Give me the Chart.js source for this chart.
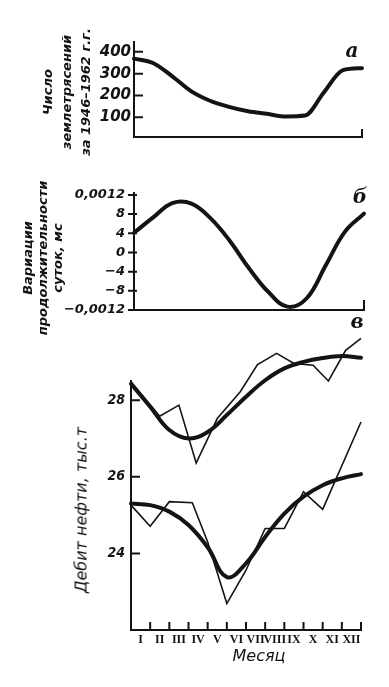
<!DOCTYPE html>
<html lang="ru">
<head>
<meta charset="utf-8">
<script src="https://cdn.jsdelivr.net/npm/chart.js@4.4.1/dist/chart.umd.min.js"></script>
<style>
  html, body { margin: 0; padding: 0; background: #fff; }
  #page { position: relative; width: 389px; height: 687px; overflow: hidden; background: #fff; }
  canvas { position: absolute; left: 0; top: 0; }
  .ytitle {
    position: absolute; transform: translate(-50%, -50%) rotate(-90deg);
    white-space: nowrap; text-align: center; color: #141414;
    font-family: 'DejaVu Sans'; font-style: italic;
  }
  .tag {
    position: absolute; transform: translate(-50%, -50%);
    font-family: 'DejaVu Serif'; font-style: italic; font-weight: bold;
    font-size: 20px; color: #141414; line-height: 1;
  }
</style>
</head>
<body>
<div id="page">
  <canvas id="quakeChart" width="389" height="687"></canvas>
  <canvas id="lodChart" width="389" height="687"></canvas>
  <canvas id="oilChart" width="389" height="687"></canvas>

  <div class="ytitle" style="left:66px; top:92px; font-size:13px; font-weight:bold; line-height:19px;">
    Число<br>землетрясений<br>за 1946–1962 г.г.
  </div>
  <div class="ytitle" style="left:42px; top:258px; font-size:13px; font-weight:bold; line-height:15px;">
    Вариации<br>продолжительности<br>суток, мс
  </div>
  <div class="ytitle" style="left:81px; top:510px; font-size:16px;">Дебит нефти, тыс.т</div>
  <div style="position:absolute; left:259px; top:655px; transform:translate(-50%,-50%); font-family:'DejaVu Sans'; font-style:italic; font-size:16px; color:#141414;">Месяц</div>

  <div class="tag" style="left:352px; top:50px;">а</div>
  <div class="tag" style="left:360px; top:196px;">б</div>
  <div class="tag" style="left:357px; top:321px;">в</div>
</div>

<script>
// Months along the bottom axis
const months = ['I', 'II', 'III', 'IV', 'V', 'VI', 'VII', 'VIII', 'IX', 'X', 'XI', 'XII'];
const monthLabelPos = [0.5, 1.5, 2.5, 3.5, 4.5, 5.5, 6.5, 7.5, 8.5, 9.5, 10.5, 11.5];
const monthTickPos = [1, 2, 3, 4, 5, 6, 7, 8, 9, 10, 11, 12];
const curveX = [0, 1, 2, 3, 4, 5, 6, 7, 8, 9, 10, 11, 12];

// (а) earthquakes 1946-1962
const quakeCount = [369, 349, 289, 220, 176, 148, 128, 116, 104, 108, 215, 316, 325];
const quakeTicks = [100, 200, 300, 400];

// (б) variations of day length, units of 0.0001 ms
const lodVariation = [4.1, 7.3, 10.3, 10.2, 7.1, 2.4, -3.3, -8.2, -11.3, -9.6, -2.7, 4.3, 8.1];
const lodTicks = [-12, -8, -4, 0, 4, 8, 12];
const lodTickLabels = ['−0,0012', '−8', '−4', '0', '4', '8', '0,0012'];

// (в) oil output, thousand t
const oilUpperRawX = [0, 1.5, 2.5, 3.4, 4.5, 5.7, 6.6, 7.6, 8.5, 9.5, 10.3, 11.2, 12];
const oilUpperRaw = [28.48, 27.58, 27.87, 26.36, 27.52, 28.22, 28.93, 29.22, 28.96, 28.91, 28.5, 29.3, 29.61];
const oilUpperSmooth = [28.43, 27.83, 27.22, 27.0, 27.17, 27.61, 28.09, 28.52, 28.83, 29.0, 29.1, 29.15, 29.11];
const oilLowerRawX = [0, 1, 2, 3.2, 4, 5, 6, 7, 8, 9, 10, 12];
const oilLowerRaw = [25.26, 24.71, 25.35, 25.32, 24.3, 22.69, 23.56, 24.65, 24.65, 25.61, 25.15, 27.43];
const oilLowerSmooth = [25.3, 25.26, 25.09, 24.74, 24.16, 23.38, 23.74, 24.43, 25.04, 25.48, 25.78, 25.96, 26.07];
const oilTicks = [24, 26, 28];

const INK = '#141414';
const PAGE_W = 389, PAGE_H = 687;

const toPoints = (xs, ys) => ys.map((y, i) => ({ x: xs[i], y }));

// Short tick marks drawn from the axes into the plot
const innerTicks = {
    id: 'innerTicks',
    afterDraw(chart, args, opts) {
        const { ctx, chartArea: a, scales } = chart;
        ctx.save();
        ctx.strokeStyle = INK;
        ctx.lineWidth = 2;
        ctx.beginPath();
        (opts.y || []).forEach(v => {
            const py = scales.y.getPixelForValue(v);
            ctx.moveTo(a.left + opts.yFrom, py);
            ctx.lineTo(a.left + opts.yTo, py);
        });
        (opts.x || []).forEach(v => {
            const px = scales.x.getPixelForValue(v);
            ctx.moveTo(px, a.bottom);
            ctx.lineTo(px, a.bottom - opts.xLen);
        });
        ctx.stroke();
        ctx.restore();
    }
};

function thickLine(data, extra) {
    return Object.assign({
        data, borderColor: INK, borderWidth: 4, pointRadius: 0,
        tension: 0.4, fill: false, clip: false, borderCapStyle: 'round'
    }, extra || {});
}

function thinLine(data) {
    return {
        data, borderColor: INK, borderWidth: 1.6, pointRadius: 0,
        tension: 0, fill: false, clip: false
    };
}

// The axes take the whole margin, so the plot box lands where the reference has it
function makePanel(id, box, yScale, xScale, datasets, tickOpts) {
    const ctx = document.getElementById(id).getContext('2d');
    return new Chart(ctx, {
        type: 'line',
        data: { datasets },
        options: {
            responsive: false,
            animation: false,
            layout: {
                padding: { left: 0, right: PAGE_W - box.right, top: box.top, bottom: 0 }
            },
            plugins: {
                legend: { display: false },
                tooltip: { enabled: false },
                innerTicks: tickOpts
            },
            scales: {
                x: Object.assign({
                    type: 'linear', min: 0, max: 12,
                    grid: { display: false, drawTicks: false },
                    border: { color: INK, width: 2 },
                    ticks: { display: false },
                    afterFit: s => { s.height = PAGE_H - box.bottom; }
                }, xScale),
                y: Object.assign({
                    type: 'linear',
                    grid: { display: false, drawTicks: false },
                    border: { color: INK, width: 2 },
                    afterFit: s => { s.width = box.left; }
                }, yScale)
            }
        },
        plugins: [innerTicks]
    });
}

// (а)
makePanel('quakeChart',
    { left: 134, right: 362, top: 42, bottom: 137 },
    {
        min: 10, max: 445,
        afterBuildTicks: s => { s.ticks = quakeTicks.map(v => ({ value: v })); },
        ticks: {
            color: INK, padding: 3,
            font: { family: 'DejaVu Sans', weight: 'bold', style: 'italic', size: 15 }
        }
    },
    {},
    [thickLine(toPoints(curveX, quakeCount), { cubicInterpolationMode: 'monotone' })],
    { y: quakeTicks, yFrom: 0, yTo: 9, x: [12], xLen: 8 }
);

// (б)
makePanel('lodChart',
    { left: 134, right: 364, top: 193, bottom: 310 },
    {
        min: -12, max: 12.4,
        afterBuildTicks: s => { s.ticks = lodTicks.map(v => ({ value: v })); },
        ticks: {
            color: INK, padding: 9,
            font: { family: 'DejaVu Sans', weight: 'bold', style: 'italic', size: 13 },
            callback: (v) => lodTickLabels[lodTicks.indexOf(v)]
        }
    },
    {},
    [thickLine(toPoints(curveX, lodVariation))],
    { y: lodTicks, yFrom: -6, yTo: 3, x: [12], xLen: 10 }
);

// (в)
makePanel('oilChart',
    { left: 131, right: 361, top: 381, bottom: 630 },
    {
        min: 22, max: 28.5,
        afterBuildTicks: s => { s.ticks = oilTicks.map(v => ({ value: v })); },
        ticks: {
            color: INK, padding: 6,
            font: { family: 'DejaVu Sans Condensed', weight: 'bold', style: 'italic', size: 14 }
        }
    },
    {
        afterBuildTicks: s => { s.ticks = monthLabelPos.map(v => ({ value: v })); },
        ticks: {
            display: true, color: INK, padding: 3,
            autoSkip: false, maxRotation: 0, minRotation: 0,
            font: { family: 'Liberation Serif', weight: 'bold', size: 12 },
            callback: (v) => months[monthLabelPos.indexOf(v)]
        }
    },
    [
        thinLine(toPoints(oilUpperRawX, oilUpperRaw)),
        thickLine(toPoints(curveX, oilUpperSmooth)),
        thinLine(toPoints(oilLowerRawX, oilLowerRaw)),
        thickLine(toPoints(curveX, oilLowerSmooth))
    ],
    { y: oilTicks, yFrom: 0, yTo: 9, x: monthTickPos, xLen: 8 }
);
</script>
</body>
</html>
